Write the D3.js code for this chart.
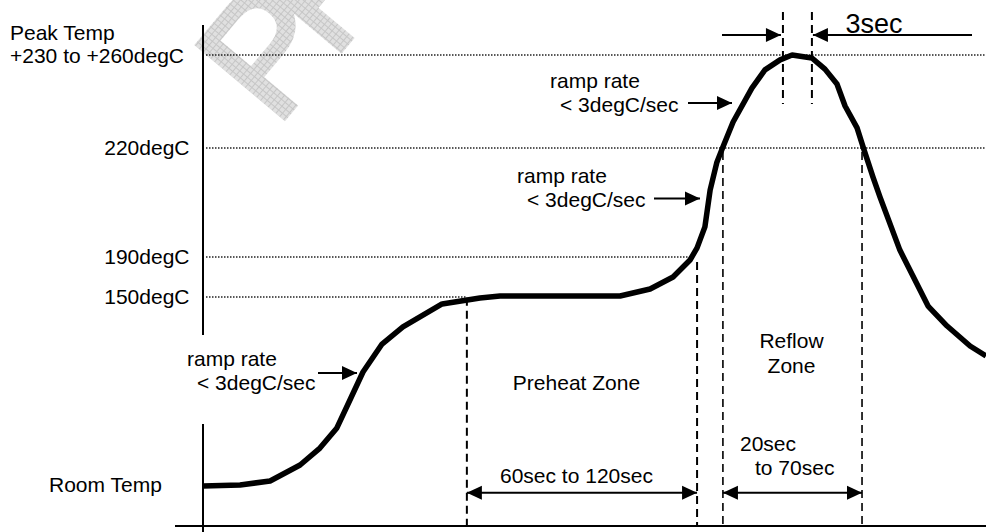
<!DOCTYPE html>
<html><head><meta charset="utf-8">
<script src="https://cdn.jsdelivr.net/npm/d3@7"></script>
<style>
html,body{margin:0;padding:0;background:#fff;}
svg{display:block;}
text{font-family:"Liberation Sans",Arial,Helvetica,sans-serif;fill:#000;}
</style>
</head><body><div id="chart"></div>
<script>
// ---- data ----
const timeSec = [0,14.2,25.7,37.2,44.8,51.3,56.3,61.3,68.6,76.6,91.6,106.1,113.8,159.8,171.3,180.1,186.6,189.3,192.3,194.3,196.9,199.2,203.1,210.3,215.3,221.1,225.7,233.3,238.3,242.9,246,250.6,252.9,256.7,259.4,267,277.8,285.1,293.9,300];
const tempC   = [25,25.7,28.3,38.9,50.1,63.4,81.9,100.4,118.9,130.2,145.4,149.3,151,151,158,170,187,192.5,198.3,208.4,216.1,220.3,227,236.1,241,243.7,245,244.2,241.2,237.2,231.3,225.4,220.3,212,206.5,191.9,144,130.8,117.6,111];
const levelTemps  = [25,150,190,220,245];
const levelLabels = ["Room Temp","150degC","190degC","220degC","+230 to +260degC"];
const peakTitle = "Peak Temp";
const preheatStart = 101.1, preheatEnd = 189.3;
const reflowStart = 199.2, reflowEnd = 252.5;
const peakStart = 222.2, peakEnd = 233.3;
const zoneLabels = ["Preheat Zone","Reflow","Zone"];
const spanLabels = ["60sec to 120sec","20sec","to 70sec","3sec"];
const rampLabels = ["ramp rate","< 3degC/sec"];
const watermark = "PRELIMINARY";

// ---- layout ----
const W = 986, H = 532;
const svg = d3.select("#chart").append("svg").attr("width",W).attr("height",H);
const x = d3.scaleLinear().domain([0,300]).range([203,986]);
const y = d3.scaleLinear().domain(levelTemps).range([486,297,257,148,55]);
const baseY = 526;

// watermark
const defs = svg.append("defs");
const pat = defs.append("pattern").attr("id","hatch").attr("width",5).attr("height",5).attr("patternUnits","userSpaceOnUse");
pat.append("rect").attr("width",5).attr("height",5).attr("fill","#e0e0e0");
pat.append("path").attr("d","M0 0.5H5M0.5 0V5").attr("stroke","#c6c6c6").attr("stroke-width",1);
svg.append("text").attr("transform","translate(276,128) rotate(-50)")
  .attr("font-size",165).attr("letter-spacing",-22)
  .style("fill","url(#hatch)").style("stroke","url(#hatch)").style("stroke-width",5)
  .text(watermark);

const font = 21;
function arrowHead(g, tipX, tipY, dir, len=15, hw=7){
  g.append("path").attr("d",`M${tipX},${tipY}L${tipX-dir*len},${tipY-hw}L${tipX-dir*len},${tipY+hw}Z`).attr("fill","#000");
}
function hArrow(x1, x2, yy, head1, head2){
  const g = svg.append("g");
  g.append("line").attr("x1",x1).attr("x2",x2).attr("y1",yy).attr("y2",yy).attr("stroke","#000").attr("stroke-width",2);
  if(head2) arrowHead(g, x2, yy, Math.sign(x2-x1));
  if(head1) arrowHead(g, x1, yy, Math.sign(x1-x2));
}

// axes
svg.append("line").attr("x1",203).attr("x2",203).attr("y1",25).attr("y2",335).attr("stroke","#000").attr("stroke-width",2);
svg.append("line").attr("x1",203).attr("x2",203).attr("y1",424).attr("y2",H).attr("stroke","#000").attr("stroke-width",2);
svg.append("line").attr("x1",175).attr("x2",W).attr("y1",baseY).attr("y2",baseY).attr("stroke","#000").attr("stroke-width",2);

// dotted level lines
const levelEnds = [null, x(preheatStart), x(186.6), W, W];
levelTemps.forEach((t,i)=>{
  if(i===0) return;
  svg.append("line").attr("x1",206).attr("x2",levelEnds[i]).attr("y1",y(t)).attr("y2",y(t))
    .attr("stroke","#222").attr("stroke-width",1.4).attr("stroke-dasharray","1.5,1.5");
});

// level labels
svg.append("text").attr("x",10).attr("y",y(245)-15.5).attr("font-size",font).text(peakTitle);
svg.append("text").attr("x",10).attr("y",y(245)+7.5).attr("font-size",font).text(levelLabels[4]);
[1,2,3].forEach(i=>{
  svg.append("text").attr("x",189.5).attr("y",y(levelTemps[i])+6.5).attr("text-anchor","end").attr("font-size",font).text(levelLabels[i]);
});
svg.append("text").attr("x",49).attr("y",y(25)+6).attr("font-size",font).text(levelLabels[0]);

// dashed zone lines
function vDash(t, y1, y2, w){
  svg.append("line").attr("x1",x(t)).attr("x2",x(t)).attr("y1",y1).attr("y2",y2)
    .attr("stroke","#000").attr("stroke-width",w).attr("stroke-dasharray","8,5");
}
vDash(preheatStart, y(149.5), baseY, 2);
vDash(preheatEnd, 262, baseY, 2);
vDash(reflowStart, 152, baseY, 1.6);
vDash(reflowEnd, 152, baseY, 1.6);
vDash(peakStart, 12, 104, 2);
vDash(peakEnd, 12, 104, 2);

// profile curve
const line = d3.line().x(i=>x(timeSec[i])).y(i=>y(tempC[i])).curve(d3.curveLinear);
svg.append("path").attr("d",line(d3.range(timeSec.length))).attr("fill","none")
  .attr("stroke","#000").attr("stroke-width",5.5).attr("stroke-linejoin","round").attr("stroke-linecap","butt");

// ramp annotations
function ramp(tx, ty, ax1, ax2, ay){
  svg.append("text").attr("x",tx).attr("y",ty).attr("font-size",font).text(rampLabels[0]);
  svg.append("text").attr("x",tx+10).attr("y",ty+24).attr("font-size",font).text(rampLabels[1]);
  hArrow(ax1, ax2, ay, false, true);
}
ramp(187, 366, 318, 357, 373);
ramp(517, 183.3, 654, 700, 198.5);
ramp(550, 87.5, 688, 732, 103);

// zone labels
svg.append("text").attr("x",576.5).attr("y",390).attr("text-anchor","middle").attr("font-size",font).text(zoneLabels[0]);
svg.append("text").attr("x",791.5).attr("y",347.7).attr("text-anchor","middle").attr("font-size",font).text(zoneLabels[1]);
svg.append("text").attr("x",791.5).attr("y",372.7).attr("text-anchor","middle").attr("font-size",font).text(zoneLabels[2]);

// span arrows
hArrow(x(preheatStart), x(preheatEnd), 492.7, true, true);
svg.append("text").attr("x",500).attr("y",482.7).attr("font-size",font).text(spanLabels[0]);
hArrow(x(reflowStart), x(reflowEnd), 492.7, true, true);
svg.append("text").attr("x",740).attr("y",450.7).attr("font-size",font).text(spanLabels[1]);
svg.append("text").attr("x",755).attr("y",475).attr("font-size",font).text(spanLabels[2]);
hArrow(722, x(peakStart)-2, 35, false, true);
hArrow(x(peakEnd)+1, 972, 35, true, false);
svg.append("text").attr("x",845.5).attr("y",33.3).attr("font-size",27).text(spanLabels[3]);
</script>
</body></html>
